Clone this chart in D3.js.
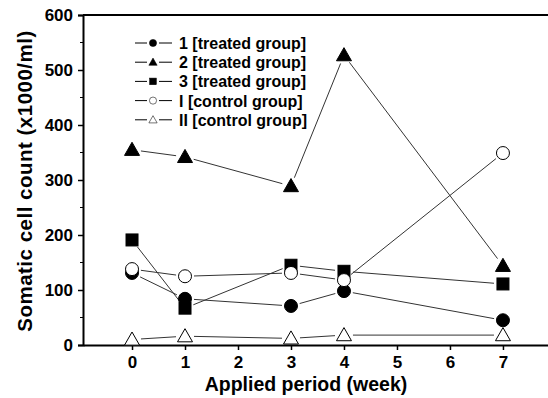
<!DOCTYPE html>
<html>
<head>
<meta charset="utf-8">
<script src="https://cdn.jsdelivr.net/npm/d3@7"></script>
<style>
  body { margin: 0; background: #fff; }
  text { font-family: "Liberation Sans", Arial, sans-serif; font-weight: bold; }
</style>
</head>
<body>
<svg id="chart" width="548" height="398"></svg>
<script>
// ----- data -----
var weeks = [0, 1, 3, 4, 7];
var xTicks = [0, 1, 2, 3, 4, 5, 6, 7];
var yTicks = [0, 100, 200, 300, 400, 500, 600];

var treated1 = [131, 84, 71, 98, 45];
var treated2 = [355, 342, 289, 527, 144];
var treated3 = [191, 67, 145, 134, 111];
var control1 = [138, 125, 131, 118, 349];
var control2 = [10, 16, 12, 18, 18];

var seriesNames = ["1 [treated group]", "2 [treated group]", "3 [treated group]", "I [control group]", "II [control group]"];
var seriesValues = [treated1, treated2, treated3, control1, control2];
var seriesSymbols = ["circle", "triangle", "square", "circle", "triangle"];
var seriesFilled = [true, true, true, false, false];

var svg = d3.select("#chart");

var plotLeft = 83, plotRight = 548, plotTop = 15, plotBottom = 345;

var x = d3.scaleLinear().domain([-0.925, 7.85]).range([plotLeft, plotRight]);
var y = d3.scaleLinear().domain([0, 600]).range([plotBottom, plotTop]);

// ----- axes -----
var yAxis = d3.axisLeft(y).tickValues(yTicks).tickSize(5).tickPadding(5);
var gy = svg.append("g").attr("transform", "translate(" + plotLeft + ",0)").call(yAxis);
gy.select(".domain").attr("stroke-width", 2);
gy.selectAll(".tick line").attr("stroke-width", 1.5);
gy.selectAll(".tick text").attr("font-size", 17).attr("fill", "#000");

// minor y ticks
svg.append("g").selectAll("line")
  .data(d3.range(50, 600, 100))
  .enter().append("line")
  .attr("x1", plotLeft - 3).attr("x2", plotLeft)
  .attr("y1", function(d){ return y(d); }).attr("y2", function(d){ return y(d); })
  .attr("stroke", "#000").attr("stroke-width", 1);

var xAxis = d3.axisBottom(x).tickValues(xTicks).tickSize(5).tickPadding(6).tickSizeOuter(0);
var gx = svg.append("g").attr("transform", "translate(0," + plotBottom + ")").call(xAxis);
gx.select(".domain").attr("stroke-width", 2);
gx.selectAll(".tick line").attr("stroke-width", 1.5);
gx.selectAll(".tick text").attr("font-size", 17).attr("fill", "#000");

// top frame line
svg.append("line")
  .attr("x1", plotLeft).attr("x2", plotRight)
  .attr("y1", plotTop).attr("y2", plotTop)
  .attr("stroke", "#000").attr("stroke-width", 2);

// titles
svg.append("text")
  .attr("x", 306).attr("y", 391)
  .attr("text-anchor", "middle")
  .attr("font-size", 19.5)
  .text("Applied period (week)");

svg.append("text")
  .attr("transform", "translate(32,181) rotate(-90)")
  .attr("text-anchor", "middle")
  .attr("font-size", 20.5)
  .attr("letter-spacing", 0.5)
  .text("Somatic cell count (x1000/ml)");

// ----- symbols -----
function drawSymbol(g, kind, filled, cx, cy) {
  var fill = filled ? "#000" : "#fff";
  if (kind === "circle") {
    g.append("circle").attr("cx", cx).attr("cy", cy).attr("r", 6.5)
      .attr("fill", fill).attr("stroke", "#000").attr("stroke-width", 1);
  } else if (kind === "square") {
    g.append("rect").attr("x", cx - 6).attr("y", cy - 6).attr("width", 12).attr("height", 12)
      .attr("fill", fill).attr("stroke", "#000").attr("stroke-width", 1);
  } else {
    var h = 7.5;
    g.append("path")
      .attr("d", "M" + cx + "," + (cy - h) + "L" + (cx + h) + "," + (cy + h * 0.75) + "L" + (cx - h) + "," + (cy + h * 0.75) + "Z")
      .attr("fill", fill).attr("stroke", "#000").attr("stroke-width", 1);
  }
}

var gap = 9;
var plot = svg.append("g");

seriesValues.forEach(function(vals, si) {
  var pts = weeks.map(function(w, i){ return [x(w), y(vals[i])]; });
  // lines with gaps near the symbols
  for (var i = 0; i < pts.length - 1; i++) {
    var a = pts[i], b = pts[i + 1];
    var dx = b[0] - a[0], dy = b[1] - a[1];
    var len = Math.sqrt(dx * dx + dy * dy);
    if (len <= gap * 2) continue;
    var ux = dx / len, uy = dy / len;
    plot.append("line")
      .attr("x1", a[0] + ux * gap).attr("y1", a[1] + uy * gap)
      .attr("x2", b[0] - ux * gap).attr("y2", b[1] - uy * gap)
      .attr("stroke", "#333").attr("stroke-width", 1);
  }
});

seriesValues.forEach(function(vals, si) {
  weeks.forEach(function(w, i) {
    drawSymbol(plot, seriesSymbols[si], seriesFilled[si], x(w), y(vals[i]));
  });
});

// ----- legend -----
var legend = svg.append("g");
seriesNames.forEach(function(name, i) {
  var ly = 43 + i * 19.2;
  legend.append("line").attr("x1", 135).attr("x2", 147).attr("y1", ly).attr("y2", ly)
    .attr("stroke", "#000").attr("stroke-width", 1);
  legend.append("line").attr("x1", 159).attr("x2", 172).attr("y1", ly).attr("y2", ly)
    .attr("stroke", "#000").attr("stroke-width", 1);
  var lg = legend.append("g").attr("transform", "translate(153," + ly + ") scale(0.55)");
  drawSymbol(lg, seriesSymbols[i], seriesFilled[i], 0, 0);
  legend.append("text")
    .attr("x", 179).attr("y", ly + 6)
    .attr("font-size", 16)
    .text(name);
});
</script>
</body>
</html>
